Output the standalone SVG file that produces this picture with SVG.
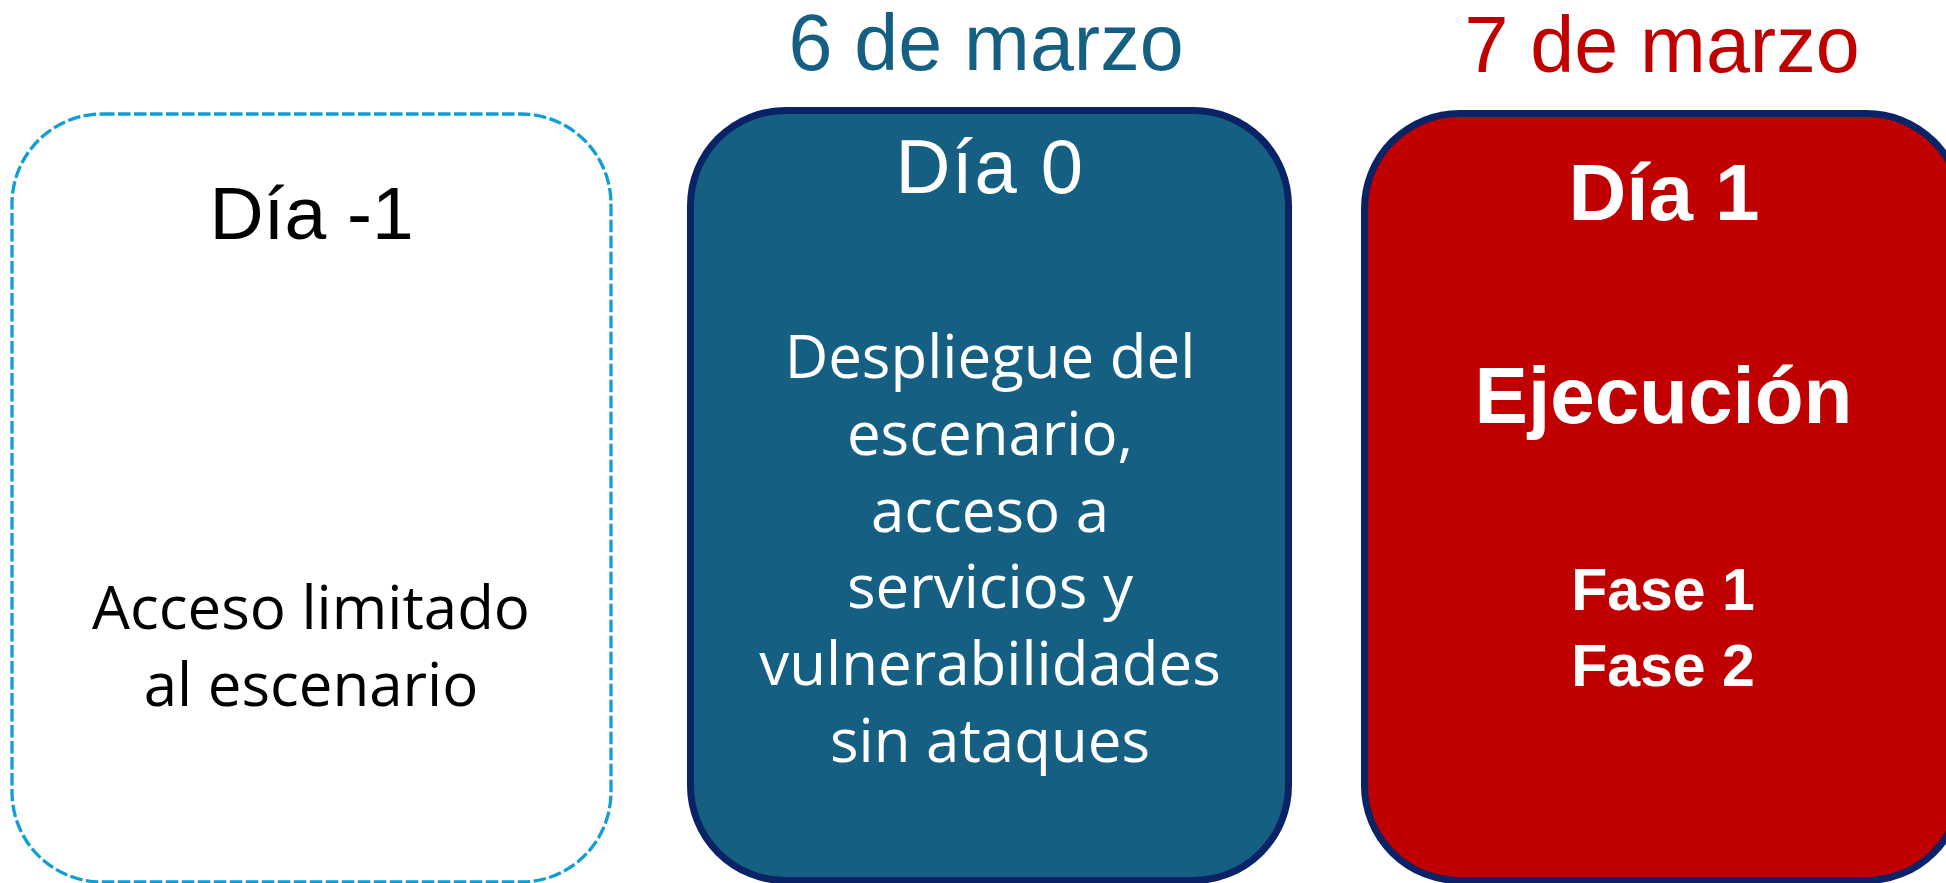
<svg xmlns="http://www.w3.org/2000/svg" width="1946" height="883" viewBox="0 0 1946 883">
<style>
.title{font-family:"Liberation Sans",Arial,sans-serif;text-anchor:middle}
.body{font-family:"Open Sans","Noto Sans",sans-serif;font-size:60px;text-anchor:middle}
.bold{font-family:"Liberation Sans",Arial,sans-serif;font-weight:bold;text-anchor:middle;fill:#FFFFFF}
.box{stroke:#0A2266;stroke-width:7}
</style>
<rect width="1946" height="883" fill="#FFFFFF"/>
<g id="dia-menos-1">
<rect x="12" y="114" width="599" height="768" rx="90" ry="90" fill="#FFFFFF" stroke="#0F9ED5" stroke-width="3.3" stroke-dasharray="12.5 3.5"/>
<text class="title" x="311.5" y="239" font-size="75" fill="#000000">Día -1</text>
<text class="body" x="311" y="629" fill="#000000">Acceso limitado</text>
<text class="body" x="311" y="706" fill="#000000">al escenario</text>
</g>
<g id="dia-0">
<text class="title" x="986" y="70" font-size="79" fill="#156082">6 de marzo</text>
<rect class="box" x="690.5" y="110.5" width="598" height="770" rx="95" ry="95" fill="#156082"/>
<text class="title" x="990" y="193" font-size="76" fill="#FFFFFF" letter-spacing="1.5">Día 0</text>
<g class="body" fill="#FFFFFF">
<text x="990" y="378">Despliegue del</text>
<text x="990" y="455">escenario,</text>
<text x="990" y="532">acceso a</text>
<text x="990" y="608">servicios y</text>
<text x="990" y="685">vulnerabilidades</text>
<text x="990" y="762">sin ataques</text>
</g>
</g>
<g id="dia-1">
<text class="title" x="1662" y="72" font-size="79" fill="#C00000">7 de marzo</text>
<rect class="box" x="1364.5" y="113.5" width="597" height="767" rx="95" ry="95" fill="#C00000"/>
<text class="bold" x="1664" y="220" font-size="80">Día 1</text>
<text class="bold" x="1663.5" y="423" font-size="80">Ejecución</text>
<text class="bold" x="1663" y="610" font-size="59">Fase 1</text>
<text class="bold" x="1663" y="686" font-size="59">Fase 2</text>
</g>
<g id="connectors"/>
</svg>
